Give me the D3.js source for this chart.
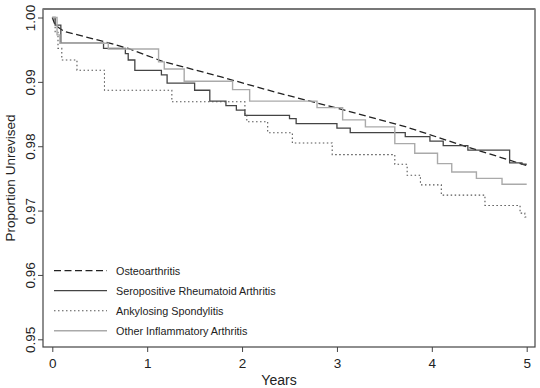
<!DOCTYPE html>
<html>
<head>
<meta charset="utf-8">
<script src="https://cdn.jsdelivr.net/npm/d3@7"></script>
<style>
  body { margin: 0; background: #fff; }
  svg { display: block; font-family: "Liberation Sans", Arial, sans-serif; }
  .tick-label { fill: #222; font-size: 13.5px; }
  .legend-text { fill: #222; font-size: 10.8px; }
</style>
</head>
<body>
<div id="main"></div>
<script>
const W = 540;
const H = 388;

// step points: [years, proportion unrevised]
const osteoarthritis = [
    [0, 1.0], [0.03, 0.9988], [0.13, 0.9978], [0.27, 0.9973], [0.56, 0.9962],
    [0.80, 0.9952], [1.16, 0.9932], [1.77, 0.9908], [2.40, 0.9882], [3.03, 0.9858],
    [3.73, 0.9830], [4.37, 0.9799], [5.0, 0.9770]
];
const seropositiveRA = [
    [0, 1.0], [0.03, 0.9988], [0.09, 0.9960], [0.54, 0.9952], [0.77, 0.9944],
    [0.80, 0.9934], [0.87, 0.9918], [1.15, 0.9911], [1.21, 0.9898], [1.50, 0.9887],
    [1.66, 0.9870], [1.83, 0.9863], [1.94, 0.9856], [2.03, 0.9848], [2.50, 0.9843],
    [2.57, 0.9835], [3.00, 0.9828], [3.14, 0.9821], [3.72, 0.9815], [3.98, 0.9808],
    [4.12, 0.9801], [4.38, 0.9794], [4.82, 0.9774], [4.95, 0.9772], [5.0, 0.9772]
];
const ankylosingSpondylitis = [
    [0, 1.0], [0.03, 0.9978], [0.06, 0.9952], [0.10, 0.9934], [0.26, 0.9918],
    [0.55, 0.9887], [1.26, 0.9869], [2.03, 0.9848], [2.05, 0.9838], [2.27, 0.9821],
    [2.53, 0.9805], [2.95, 0.9787], [3.61, 0.9772], [3.74, 0.9755], [3.88, 0.9740],
    [4.10, 0.9724], [4.56, 0.9708], [4.93, 0.9696], [4.98, 0.9690], [5.0, 0.9690]
];
const otherInflammatory = [
    [0, 1.0], [0.05, 0.9973], [0.08, 0.9960], [0.59, 0.9951], [1.12, 0.9931],
    [1.18, 0.9920], [1.39, 0.9901], [1.90, 0.9888], [2.08, 0.9870], [2.79, 0.9860],
    [3.06, 0.9841], [3.30, 0.9830], [3.61, 0.9804], [3.82, 0.9789], [4.06, 0.9773],
    [4.21, 0.9760], [4.47, 0.9750], [4.74, 0.9741], [5.0, 0.9741]
];

const xTicks = [0, 1, 2, 3, 4, 5];
const yTicks = [0.95, 0.96, 0.97, 0.98, 0.99, 1.00];
const seriesNames = ["Osteoarthritis", "Seropositive Rheumatoid Arthritis",
    "Ankylosing Spondylitis", "Other Inflammatory Arthritis"];

const series = [
    { name: seriesNames[0], data: osteoarthritis, stroke: "#222", width: 1.3, dash: "7,3.5", curve: d3.curveLinear },
    { name: seriesNames[1], data: seropositiveRA, stroke: "#444", width: 1.3, dash: null, curve: d3.curveStepAfter },
    { name: seriesNames[2], data: ankylosingSpondylitis, stroke: "#555", width: 1.1, dash: "1.5,2.5", curve: d3.curveStepAfter },
    { name: seriesNames[3], data: otherInflammatory, stroke: "#aaa", width: 1.4, dash: null, curve: d3.curveStepAfter }
];

var x = d3.scaleLinear().domain([0, 5]).range([52.3, 526.7]);
var y = d3.scaleLinear().domain([0.95, 1.0]).range([339.3, 17.5]);

var svg = d3.select("#main").append("svg")
    .attr("width", W)
    .attr("height", H);

// box
const box = { left: 43, right: 535, top: 9, bottom: 347 };
svg.append("rect")
    .attr("x", box.left).attr("y", box.top)
    .attr("width", box.right - box.left)
    .attr("height", box.bottom - box.top)
    .attr("fill", "none")
    .attr("stroke", "#444")
    .attr("stroke-width", 1.2);
svg.append("line")
    .attr("x1", box.left).attr("x2", box.right)
    .attr("y1", box.top).attr("y2", box.top)
    .attr("stroke", "#777").attr("stroke-width", 2);

// x axis
svg.append("g")
    .attr("transform", `translate(0,${box.bottom})`)
    .call(d3.axisBottom(x).tickValues(xTicks).tickSize(5).tickPadding(6).tickFormat(d3.format("d")))
    .call(g => g.select(".domain").remove())
    .call(g => g.selectAll("line").attr("stroke", "#444"))
    .call(g => g.selectAll("text").attr("class", "tick-label").attr("font-size", null).attr("font-family", null));

// y axis, rotated labels
var yAxis = svg.append("g")
    .attr("transform", `translate(${box.left},0)`)
    .call(d3.axisLeft(y).tickValues(yTicks).tickSize(5).tickFormat(d3.format(".2f")))
    .call(g => g.select(".domain").remove())
    .call(g => g.selectAll("line").attr("stroke", "#444"));
yAxis.selectAll("text")
    .attr("class", "tick-label")
    .attr("font-size", null).attr("font-family", null)
    .attr("x", null).attr("dy", null)
    .attr("text-anchor", "middle")
    .attr("transform", "translate(-8,0) rotate(-90)");

// axis titles
svg.append("text")
    .attr("x", (box.left + box.right) / 2 - 10)
    .attr("y", 385)
    .attr("text-anchor", "middle")
    .attr("fill", "#222")
    .attr("font-size", 14)
    .text("Years");
svg.append("text")
    .attr("transform", "translate(15,178) rotate(-90)")
    .attr("text-anchor", "middle")
    .attr("fill", "#222")
    .attr("font-size", 13.5)
    .text("Proportion Unrevised");

// curves
var curves = svg.append("g").attr("id", "curves");
series.forEach(function (s) {
    var line = d3.line()
        .x(d => x(d[0]))
        .y(d => y(d[1]))
        .curve(s.curve);
    curves.append("path")
        .datum(s.data)
        .attr("d", line)
        .attr("fill", "none")
        .attr("stroke", s.stroke)
        .attr("stroke-width", s.width)
        .attr("stroke-dasharray", s.dash);
});

// legend
var legend = svg.append("g").attr("id", "legend");
series.forEach(function (s, i) {
    var ly = 270.7 + i * 20;
    legend.append("line")
        .attr("x1", 54).attr("x2", 107)
        .attr("y1", ly).attr("y2", ly)
        .attr("stroke", s.stroke)
        .attr("stroke-width", s.width)
        .attr("stroke-dasharray", s.dash);
    legend.append("text")
        .attr("class", "legend-text")
        .attr("x", 116)
        .attr("y", ly + 4)
        .text(s.name);
});
</script>
</body>
</html>
